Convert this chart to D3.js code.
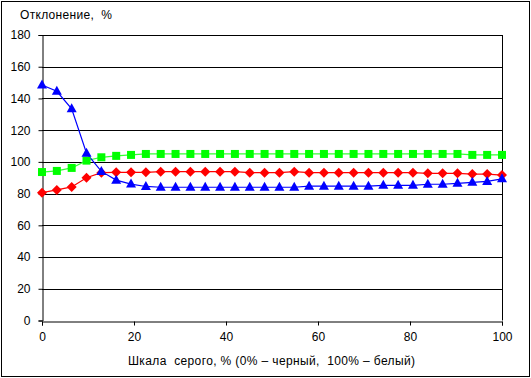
<!DOCTYPE html>
<html><head><meta charset="utf-8">
<script src="https://cdn.jsdelivr.net/npm/d3@7"></script>
<style>body{margin:0;background:#fff}svg{display:block}text{font-family:Arial,"Liberation Sans",sans-serif;fill:#000}</style>
</head><body><svg id="c" width="531" height="378"></svg>
<script>
const xValues = d3.range(32).map(i => i * 100 / 31);
const blueSeries = [148.5,144.5,133.5,105.5,94,88.5,86,84.5,84,84,84,84,84,84,84,84,84,84,84.7,84.7,84.7,84.7,84.7,85.2,85.2,85.2,85.9,85.9,86.5,87.1,87.7,89.3];
const redSeries = [80.6,82.3,84.2,90,93.2,93.4,93.4,93.4,93.8,93.8,93.8,93.8,93.8,93.8,93.2,93.2,93.2,93.8,93.2,93.2,93.2,93.2,93.2,93.2,93.2,93.2,92.8,92.8,92.8,92.3,92.3,91.7];
const greenSeries = [93.6,94.3,96.2,100.8,102.9,103.8,104.4,105,105,105,105,105,105,105,105,105,105,105,105,105,105,105,105,105,105,105,105,105,105,104.4,104.4,104.4];
const xTicks = [0,20,40,60,80,100];
const yTicks = [0,20,40,60,80,100,120,140,160,180];
const yTitle = "Отклонение,  %";
const xTitle = "Шкала  серого, % (0% – черный,  100% – белый)";

const svg = d3.select("#c");
svg.append("rect").attr("x",1.5).attr("y",1.5).attr("width",528).attr("height",375).attr("fill","#fff").attr("stroke","#000").attr("stroke-width",1);
const L=42, R=502, T=35, B=320.5;
const x = d3.scaleLinear().domain([0,100]).range([L,R]);
const y = d3.scaleLinear().domain([0,180]).range([B,T]);

svg.append("g").selectAll("line").data(yTicks.filter(v=>v>0)).join("line")
  .attr("x1",L).attr("x2",R).attr("y1",d=>Math.round(y(d))+0.5).attr("y2",d=>Math.round(y(d))+0.5)
  .attr("stroke","#000").attr("stroke-width",1);
svg.append("line").attr("x1",R+0.5).attr("x2",R+0.5).attr("y1",T).attr("y2",B).attr("stroke","#000");

const yAxis = svg.append("g").attr("transform",`translate(${L+0.5},0)`)
  .call(d3.axisLeft(y).tickValues(yTicks).tickSize(4).tickPadding(8).tickFormat(d3.format("d")));
const xAxis = svg.append("g").attr("transform",`translate(0,${Math.round(B)+0.5})`)
  .call(d3.axisBottom(x).tickValues(xTicks).tickSize(4).tickPadding(7).tickFormat(d3.format("d")));
[yAxis,xAxis].forEach(g=>{g.select(".domain").attr("stroke","#000");g.selectAll(".tick line").attr("stroke","#000");
  g.selectAll("text").attr("font-size",12).attr("font-family","Arial, 'Liberation Sans', sans-serif").attr("fill","#000");});
yAxis.selectAll(".tick text").attr("x",-12);

const line = d3.line().x((d,i)=>x(xValues[i])).y(d=>y(d));
const series = [
  {vals: greenSeries, color:"#00ff00", line:"#33ff33", shape:"square"},
  {vals: redSeries, color:"#ff0000", line:"#ff0000", shape:"diamond"},
  {vals: blueSeries, color:"#0000ff", line:"#0000ff", shape:"triangle"}
];
series.forEach(s=>{
  svg.append("path").attr("d",line(s.vals)).attr("fill","none").attr("stroke",s.line).attr("stroke-width",1.2);
});
series.forEach(s=>{
  const g = svg.append("g");
  s.vals.forEach((v,i)=>{
    const cx = x(xValues[i]), cy = y(v);
    if(s.shape==="square") g.append("rect").attr("x",cx-4).attr("y",cy-4).attr("width",8).attr("height",8).attr("fill",s.color);
    else if(s.shape==="diamond") g.append("path").attr("d",`M${cx},${cy-5}L${cx+5},${cy}L${cx},${cy+5}L${cx-5},${cy}Z`).attr("fill",s.color);
    else g.append("path").attr("d",`M${cx},${cy-5.5}L${cx+5},${cy+3.5}L${cx-5},${cy+3.5}Z`).attr("fill",s.color);
  });
});

svg.append("text").attr("x",20).attr("y",19).attr("font-size",12).attr("textLength",92).attr("lengthAdjust","spacing").style("white-space","pre").text(yTitle);
svg.append("text").attr("x",128).attr("y",365).attr("font-size",12).attr("textLength",287).attr("lengthAdjust","spacing").style("white-space","pre").text(xTitle);
</script></body></html>
